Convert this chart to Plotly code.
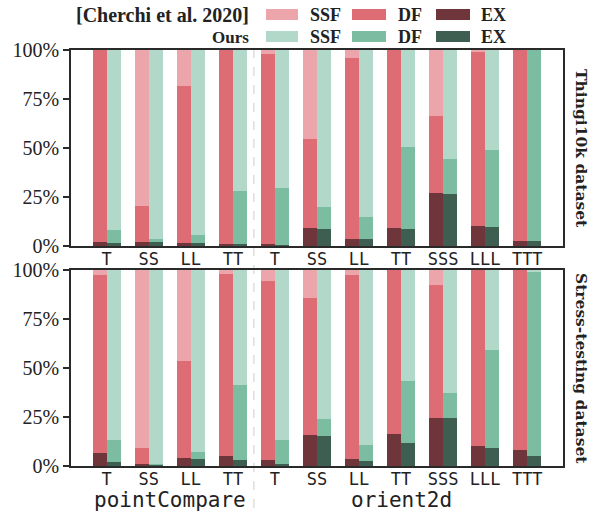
import plotly.graph_objects as go

# ---------------- data ----------------
categories = ["T", "SS", "LL", "TT", "T", "SS", "LL", "TT", "SSS", "LLL", "TTT"]
groups = ["pointCompare", "orient2d"]
group_sizes = [4, 7]
segments = ["EX", "DF", "SSF"]
methods = ["[Cherchi et al. 2020]", "Ours"]
datasets = ["Thingi10k dataset", "Stress-testing dataset"]

# Thingi10k dataset (percent of each segment, bottom to top: EX, DF, SSF)
thingi_cherchi_ex = [1.9, 2.0, 1.4, 0.9, 0.9, 9.2, 3.4, 9.2, 26.9, 10.2, 2.4]
thingi_cherchi_df = [98.1, 18.4, 80.4, 99.1, 97.1, 45.3, 92.5, 90.8, 39.4, 88.9, 97.6]
thingi_cherchi_ssf = [0.0, 79.6, 18.2, 0.0, 2.0, 45.5, 4.1, 0.0, 33.7, 0.9, 0.0]
thingi_ours_ex = [1.4, 2.0, 1.4, 0.9, 0.3, 8.5, 3.4, 8.5, 26.4, 9.5, 2.4]
thingi_ours_df = [6.6, 1.4, 4.2, 27.2, 29.3, 11.4, 11.3, 41.9, 17.9, 39.4, 97.6]
thingi_ours_ssf = [92.0, 96.6, 94.4, 71.9, 70.4, 80.1, 85.3, 49.6, 55.7, 51.1, 0.0]

# Stress-testing dataset
stress_cherchi_ex = [6.6, 0.9, 3.9, 4.9, 2.9, 15.8, 3.4, 16.4, 24.4, 10.0, 8.0]
stress_cherchi_df = [91.0, 8.1, 49.6, 93.1, 91.5, 69.9, 94.0, 83.6, 67.9, 90.0, 92.0]
stress_cherchi_ssf = [2.4, 91.0, 46.5, 2.0, 5.6, 14.3, 2.6, 0.0, 7.7, 0.0, 0.0]
stress_ours_ex = [2.0, 0.9, 3.4, 2.9, 0.9, 15.2, 2.4, 11.6, 24.4, 9.0, 4.9]
stress_ours_df = [11.1, 0.1, 3.6, 38.3, 12.2, 8.7, 8.2, 31.7, 12.7, 50.1, 94.5]
stress_ours_ssf = [86.9, 99.0, 93.0, 58.8, 86.9, 76.1, 89.4, 56.7, 62.9, 40.9, 0.6]

ytick_vals = [0, 25, 50, 75, 100]
ytick_text = ["0%", "25%", "50%", "75%", "100%"]

# ---------------- styles ----------------
cherchi_colors = {"SSF": "#ECA6AB", "DF": "#DD6C74", "EX": "#6E353A"}
ours_colors = {"SSF": "#B2D8CA", "DF": "#7CBCA0", "EX": "#3E5E51"}
SERIF = "Liberation Serif"
MONO = "DejaVu Sans Mono"

W, H = 591, 515
PL, PR, PT, PB = 71, 563, 50, 466          # plot area in pixels
ML, MR, MT, MB = PL, W - PR, PT, H - PB
PW, PH = PR - PL, PB - PT


def px_x(px):
    return (px - PL) / PW


def px_y(py):
    return (PB - py) / PH


xs = list(range(len(categories)))
bw = 1 / 3

panel_data = [
    {"Cherchi": [thingi_cherchi_ex, thingi_cherchi_df, thingi_cherchi_ssf],
     "Ours": [thingi_ours_ex, thingi_ours_df, thingi_ours_ssf]},
    {"Cherchi": [stress_cherchi_ex, stress_cherchi_df, stress_cherchi_ssf],
     "Ours": [stress_ours_ex, stress_ours_df, stress_ours_ssf]},
]

fig = go.Figure()
for p, pdata in enumerate(panel_data):
    xa = "x" if p == 0 else "x2"
    ya = "y" if p == 0 else "y2"
    for key, off, cols in [("Cherchi", -bw, cherchi_colors), ("Ours", 0.0, ours_colors)]:
        base = [0.0] * len(categories)
        for seg, vals in zip(segments, pdata[key]):
            fig.add_trace(go.Bar(
                x=xs, y=vals, base=list(base), offset=off, width=bw,
                marker=dict(color=cols[seg], line=dict(width=0)),
                xaxis=xa, yaxis=ya, showlegend=False,
                name=f"{key} {seg}",
            ))
            base = [b + v for b, v in zip(base, vals)]

dom_top = [px_y(246), 1.0]
dom_bot = [0.0, px_y(270)]

axis_common = dict(
    showline=True, linecolor="#2a2a2a", linewidth=1.5, mirror=True,
    showgrid=False, zeroline=False,
)
xcommon = dict(axis_common, range=[-0.85, 10.85], tickvals=xs, ticktext=categories,
               ticks="", ticklabelstandoff=-3,
               tickfont=dict(family=MONO, size=17, color="#222"))
ycommon = dict(axis_common, range=[0, 100], tickvals=ytick_vals, ticktext=ytick_text,
               ticks="outside", ticklen=6, tickwidth=1.5, tickcolor="#2a2a2a",
               tickfont=dict(family=SERIF, size=20, color="#222"))

fig.update_layout(
    width=W, height=H,
    margin=dict(l=ML, r=MR, t=MT, b=MB),
    paper_bgcolor="white", plot_bgcolor="white",
    barmode="overlay", bargap=0,
    xaxis=dict(xcommon, domain=[0, 1], anchor="y"),
    yaxis=dict(ycommon, domain=dom_top, anchor="x"),
    xaxis2=dict(xcommon, domain=[0, 1], anchor="y2"),
    yaxis2=dict(ycommon, domain=dom_bot, anchor="x2"),
)

# dashed separator between groups
fig.add_shape(type="line", xref="x", yref="paper", x0=group_sizes[0] - 0.5, x1=group_sizes[0] - 0.5,
              y0=px_y(508), y1=1.0, line=dict(color="#cfcfcf", width=1, dash="dash"), layer="below")

# group labels
start = 0
for g, n in zip(groups, group_sizes):
    fig.add_annotation(x=start + (n - 1) / 2, y=px_y(500), xref="x2", yref="paper",
                       text=g, showarrow=False, font=dict(family=MONO, size=21, color="#222"),
                       xanchor="center", yanchor="middle")
    start += n

# dataset labels on the right
for d, (y0, y1) in zip(datasets, [(50, 246), (270, 466)]):
    fig.add_annotation(x=px_x(582), y=px_y((y0 + y1) / 2), xref="paper", yref="paper",
                       text=f"<b>{d}</b>", textangle=90, showarrow=False,
                       font=dict(family="DejaVu Serif", size=15.5, color="#222"),
                       xanchor="center", yanchor="middle")

# legend (manual)
row_y = [(9, 20), (31, 42)]
row_font = [20, 17]
sw_x = [(266, 298), (352, 386), (436, 470)]
txt_x = [308, 396, 479]
leg_segments = ["SSF", "DF", "EX"]
for r, (mname, cols) in enumerate(zip(methods, [cherchi_colors, ours_colors])):
    y0, y1 = row_y[r]
    yc = (y0 + y1) / 2 + 0.5
    fig.add_annotation(x=px_x(251), y=px_y(yc), xref="paper", yref="paper",
                       text=f"<b>{mname}</b>", showarrow=False,
                       font=dict(family=SERIF, size=row_font[r], color="#222"),
                       xanchor="right", yanchor="middle")
    for (sx0, sx1), tx, seg in zip(sw_x, txt_x, leg_segments):
        fig.add_shape(type="rect", xref="paper", yref="paper",
                      x0=px_x(sx0), x1=px_x(sx1), y0=px_y(y1), y1=px_y(y0),
                      fillcolor=cols[seg], line=dict(width=0))
        fig.add_annotation(x=px_x(tx), y=px_y(yc), xref="paper", yref="paper",
                           text=f"<b>{seg}</b>", showarrow=False,
                           font=dict(family=SERIF, size=18, color="#222"),
                           xanchor="left", yanchor="middle")

fig.write_html("out.html", config={"displayModeBar": False},
               post_script="document.body.style.margin='0';")
